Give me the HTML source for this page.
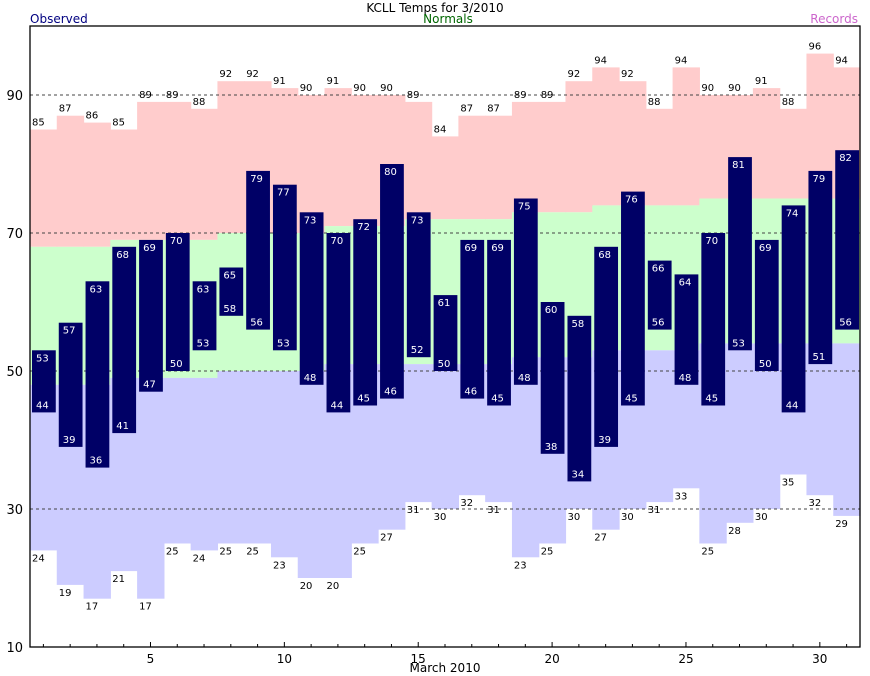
<!DOCTYPE html>
<html><head><meta charset="utf-8"><style>
html,body{margin:0;padding:0;background:#fff;}
svg{display:block;font-family:"DejaVu Sans","Liberation Sans",sans-serif;}
</style></head><body>
<svg id="c" width="870" height="676" xmlns="http://www.w3.org/2000/svg"></svg>
<script>
var rh=[85,87,86,85,89,89,88,92,92,91,90,91,90,90,89,84,87,87,89,89,92,94,92,88,94,90,90,91,88,96,94];
var rl=[24,19,17,21,17,25,24,25,25,23,20,20,25,27,31,30,32,31,23,25,30,27,30,31,33,25,28,30,35,32,29];
var oh=[53,57,63,68,69,70,63,65,79,77,73,70,72,80,73,61,69,69,75,60,58,68,76,66,64,70,81,69,74,79,82];
var ol=[44,39,36,41,47,50,53,58,56,53,48,44,45,46,52,50,46,45,48,38,34,39,45,56,48,45,53,50,44,51,56];
var nh=[68,68,68,69,69,69,69,70,70,70,70,71,71,71,72,72,72,72,73,73,73,74,74,74,74,75,75,75,75,75,75];
var nl=[48,48,48,49,49,49,49,50,50,50,50,51,51,51,51,51,51,51,52,52,52,53,53,53,53,54,54,54,54,54,54];
var L=30,R=860,T=26,B=647,dw=(R-L)/31;
function Y(v){return B-(v-10)*6.9;}
function X(d){return L+(d-1)*dw;}
var s='';
function r(x,y,w,h,c){s+='<rect x="'+x.toFixed(2)+'" y="'+y.toFixed(2)+'" width="'+w.toFixed(2)+'" height="'+h.toFixed(2)+'" fill="'+c+'"/>';}
function t(x,y,txt,sz,c,a){s+='<text x="'+x+'" y="'+y+'" font-size="'+sz+'" fill="'+c+'"'+(a?' text-anchor="'+a+'"':'')+'>'+txt+'</text>';}
for(var i=0;i<31;i++){
 var x=X(i+1),w=dw+0.6;
 r(x,Y(rh[i]),w,Y(nh[i])-Y(rh[i]),'#ffcccc');
 r(x,Y(nh[i]),w,Y(nl[i])-Y(nh[i]),'#ccffcc');
 r(x,Y(nl[i]),w,Y(rl[i])-Y(nl[i]),'#ccccff');
}
[30,50,70,90].forEach(function(v){s+='<line x1="'+L+'" x2="'+R+'" y1="'+Y(v)+'" y2="'+Y(v)+'" stroke="#444" stroke-dasharray="3,3" stroke-width="1"/>';});
for(var i=0;i<31;i++){
 var x=X(i+1);
 t((x+2).toFixed(1),(Y(rh[i])-4).toFixed(1),rh[i],10,'#000');
 t((x+2).toFixed(1),(Y(rl[i])+11).toFixed(1),rl[i],10,'#000');
 r(x+2,Y(oh[i]),dw-3,Y(ol[i])-Y(oh[i]),'#000066');
 t((x+6).toFixed(1),(Y(oh[i])+11).toFixed(1),oh[i],10,'#fff');
 t((x+6).toFixed(1),(Y(ol[i])-4).toFixed(1),ol[i],10,'#fff');
}
s+='<rect x="'+L+'" y="'+T+'" width="'+(R-L)+'" height="'+(B-T)+'" fill="none" stroke="#000" stroke-width="1.3"/>';
for(var d=1;d<=31;d++){var cx=X(d)+dw/2;s+='<line x1="'+cx+'" x2="'+cx+'" y1="'+B+'" y2="'+(B-(d%5==0?5:3))+'" stroke="#000"/>';
 if(d%5==0)t(cx.toFixed(1),663,d,12,'#000','middle');}
[10,30,50,70,90].forEach(function(v){t(23,Y(v)+5,v,13,'#000','end');});
t(435,12,'KCLL Temps for 3/2010',12,'#000','middle');
t(30,23,'Observed',12,'#000080');
t(448,23,'Normals',12,'#006600','middle');
t(858,23,'Records',12,'#cc66cc','end');
t(445,672,'March 2010',12,'#000','middle');
document.getElementById('c').innerHTML=s;
</script>
</body></html>
